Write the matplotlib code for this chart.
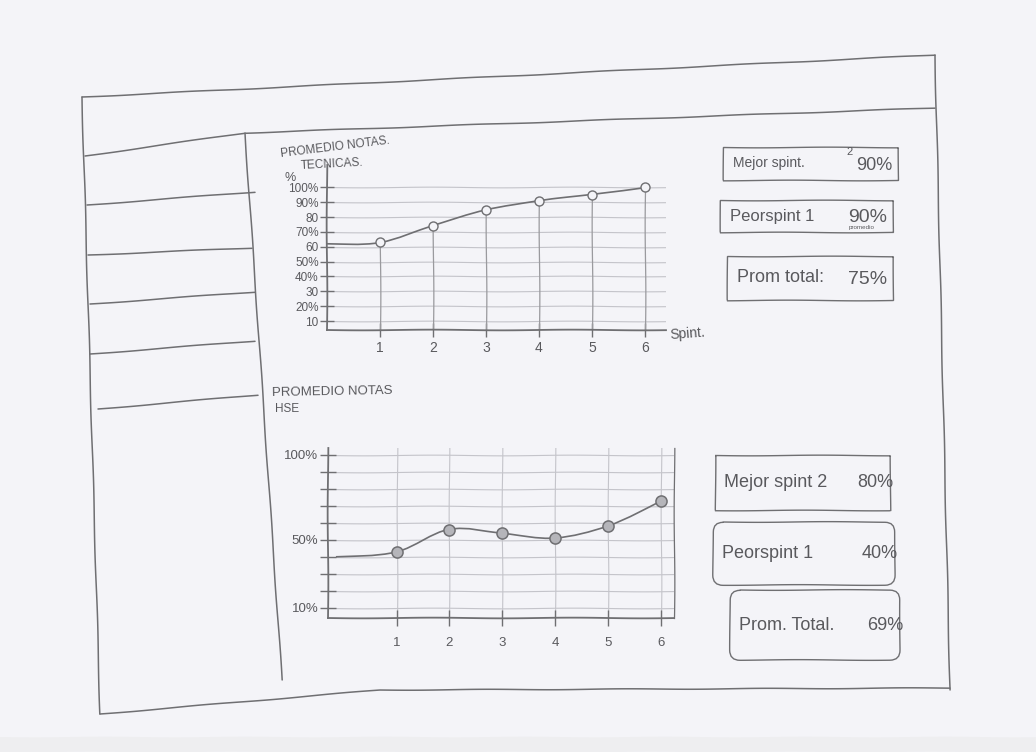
import numpy as np
import matplotlib
matplotlib.use('Agg')
import matplotlib.pyplot as plt
from matplotlib.path import Path
from matplotlib.patches import PathPatch, Rectangle, FancyBboxPatch

sprints = [1, 2, 3, 4, 5, 6]
notas_tecnicas = [63, 74, 85, 91, 95, 100]
notas_hse = [43, 56, 54, 51, 58, 73]
inicio_tecnicas = (0.0, 62)      # la curva arranca en el eje
inicio_hse = (-0.15, 40)

yticks = [10, 20, 30, 40, 50, 60, 70, 80, 90, 100]
ylabels_tecnicas = ['10', '20%', '30', '40%', '50%', '60', '70%', '80', '90%', '100%']
ylabels_hse = ['10%', '', '', '', '50%', '', '', '', '', '100%']

stats_tec_nombre = ['Mejor spint.', 'Peorspint 1', 'Prom total:']
stats_tec_valor = ['90%', '90%', '75%']
stats_hse_nombre = ['Mejor spint 2', 'Peorspint 1', 'Prom. Total.']
stats_hse_valor = ['80%', '40%', '69%']

PAPEL = '#f4f4f8'
LAPIZ = '#6f6f72'
LAPIZ_SUAVE = '#c4c4ca'
TEXTO = '#59595d'

plt.rcParams['font.family'] = ['Liberation Sans', 'DejaVu Sans']
plt.rcParams['path.sketch'] = (0.35, 140, 1.0)

W, H = 1036, 752
fig = plt.figure(figsize=(W / 100, H / 100), dpi=100, facecolor=PAPEL)

# capa de fondo en pixeles para el marco del boceto
ov = fig.add_axes([0, 0, 1, 1], zorder=0)
ov.set_xlim(0, W)
ov.set_ylim(H, 0)
ov.axis('off')
ov.add_patch(Rectangle((0, 737), W, 15, color='#eeeef0', lw=0))

def trazo(pts, color=LAPIZ, lw=1.1):
    xs, ys = zip(*pts)
    ov.plot(xs, ys, color=color, lw=lw, solid_capstyle='round')

# marco exterior
trazo([(82, 97), (935, 55)])
trazo([(935, 55), (950, 690)])
trazo([(100, 714), (380, 690), (950, 688)])
trazo([(82, 97), (100, 714)])
# cabecera y barra lateral
trazo([(85, 156), (245, 133), (935, 108)])
trazo([(245, 133), (282, 680)])
for a, b in [((87, 205), (255, 192)), ((88, 255), (252, 248)),
             ((90, 304), (255, 292)), ((90, 354), (255, 341)),
             ((98, 409), (258, 395))]:
    trazo([a, b])

def curva(ax, xs, ys, **kw):
    # curva suave (catmull-rom dibujada como bezier)
    p = np.column_stack([xs, ys]).astype(float)
    verts = [p[0]]
    codes = [Path.MOVETO]
    for i in range(len(p) - 1):
        p0 = p[i - 1] if i > 0 else p[i]
        p1, p2 = p[i], p[i + 1]
        p3 = p[i + 2] if i + 2 < len(p) else p[i + 1]
        verts += [p1 + (p2 - p0) / 6, p2 - (p3 - p1) / 6, p2]
        codes += [Path.CURVE4] * 3
    ax.add_patch(PathPatch(Path(verts, codes), fill=False, **kw))

# ---------- grafico 1: notas tecnicas ----------
ax1 = fig.add_axes([327 / W, 1 - 330 / H, 339 / W, 165 / H], zorder=2)
ax1.set_facecolor('none')
ax1.set_xlim(0, 6.4)
ax1.set_ylim(4, 115)
ax1.set_yticks(yticks)
ax1.set_yticklabels(ylabels_tecnicas)
ax1.set_xticks(sprints)
ax1.grid(axis='y', color=LAPIZ_SUAVE, lw=0.8)
ax1.set_axisbelow(True)
for s in ['top', 'right']:
    ax1.spines[s].set_visible(False)
for s in ['left', 'bottom']:
    ax1.spines[s].set_color(LAPIZ)
    ax1.spines[s].set_linewidth(1.3)
ax1.tick_params(axis='both', direction='inout', length=10, width=1.0,
                color=LAPIZ, labelcolor=TEXTO)
ax1.tick_params(axis='y', labelsize=8.5, pad=1)
ax1.tick_params(axis='x', labelsize=10, pad=3)
ax1.vlines(sprints, 4, notas_tecnicas, color='#9a9a9e', lw=0.9)
curva(ax1, [inicio_tecnicas[0]] + sprints, [inicio_tecnicas[1]] + notas_tecnicas,
      color=LAPIZ, lw=1.2)
ax1.plot(sprints, notas_tecnicas, 'o', ms=6.5, mfc=PAPEL, mec=LAPIZ, mew=1.0)
ax1.text(1.01, -0.02, 'Spint.', transform=ax1.transAxes, fontsize=10,
         color=TEXTO, va='center', ha='left', rotation=4)

# ---------- grafico 2: notas HSE ----------
ax2 = fig.add_axes([328 / W, 1 - 618 / H, 346 / W, 170 / H], zorder=2)
ax2.set_facecolor('none')
ax2.set_xlim(-0.3, 6.25)
ax2.set_ylim(4, 104)
ax2.set_yticks(yticks)
ax2.set_yticklabels(ylabels_hse)
ax2.set_xticks(sprints)
ax2.grid(True, color=LAPIZ_SUAVE, lw=0.8)
ax2.set_axisbelow(True)
ax2.spines['top'].set_visible(False)
for s in ['left', 'bottom', 'right']:
    ax2.spines[s].set_color(LAPIZ)
    ax2.spines[s].set_linewidth(1.3)
ax2.spines['right'].set_linewidth(0.9)
ax2.tick_params(axis='both', direction='inout', length=12, width=1.0,
                color=LAPIZ, labelcolor=TEXTO, labelsize=9.5)
ax2.tick_params(axis='y', pad=1)
ax2.tick_params(axis='x', pad=8)
curva(ax2, [inicio_hse[0]] + sprints, [inicio_hse[1]] + notas_hse,
      color=LAPIZ, lw=1.2)
ax2.plot(sprints, notas_hse, 'o', ms=8, mfc='#b5b5ba', mec=LAPIZ, mew=1.1)

# ---------- titulos ----------
ov.text(280, 157, 'PROMEDIO NOTAS.', fontsize=8.5, color=TEXTO, rotation=7,
        ha='left', va='baseline')
ov.text(300, 169, 'TECNICAS.', fontsize=8.5, color=TEXTO, rotation=3,
        ha='left', va='baseline')
ov.text(290, 178, '%', fontsize=9, color=TEXTO, ha='center', va='center')
ov.text(272, 396, 'PROMEDIO NOTAS', fontsize=9.5, color=TEXTO, rotation=1,
        ha='left', va='baseline')
ov.text(275, 412, 'HSE', fontsize=8.5, color=TEXTO, ha='left', va='baseline')

# ---------- tarjetas de resumen ----------
cajas_tec = [(723, 147, 898, 180), (720, 200, 893, 232), (727, 256, 893, 300)]
tam_tec = [(10, 13), (12, 14), (13, 14)]
for (x0, y0, x1, y1), nom, val, (fn, fv) in zip(cajas_tec, stats_tec_nombre,
                                                stats_tec_valor, tam_tec):
    ov.add_patch(Rectangle((x0, y0), x1 - x0, y1 - y0, fill=False,
                           ec=LAPIZ, lw=1.0))
    yc = (y0 + y1) / 2
    ov.text(x0 + 10, yc, nom, fontsize=fn, color=TEXTO, va='center', ha='left')
    ov.text(x1 - 6, yc + 2, val, fontsize=fv, color=TEXTO, va='center', ha='right')
ov.text(850, 152, '2', fontsize=8, color=TEXTO, ha='center', va='center')
ov.text(862, 228, 'promedio', fontsize=4.5, color=TEXTO, ha='center', va='center')

cajas_hse = [(715, 455, 890, 510), (713, 522, 895, 585), (730, 590, 900, 660)]
redondo = [False, True, True]
for (x0, y0, x1, y1), nom, val, r in zip(cajas_hse, stats_hse_nombre,
                                        stats_hse_valor, redondo):
    if r:
        ov.add_patch(FancyBboxPatch((x0, y0), x1 - x0, y1 - y0,
                                    boxstyle='round,pad=0,rounding_size=10',
                                    fill=False, ec=LAPIZ, lw=1.0))
    else:
        ov.add_patch(Rectangle((x0, y0), x1 - x0, y1 - y0, fill=False,
                               ec=LAPIZ, lw=1.0))
    yc = (y0 + y1) / 2
    ov.text(x0 + 9, yc, nom, fontsize=13, color=TEXTO, va='center', ha='left')
    ov.text(x1 + 3, yc, val, fontsize=13, color=TEXTO, va='center', ha='right')

fig.savefig('out.png', dpi=100, facecolor=PAPEL)
